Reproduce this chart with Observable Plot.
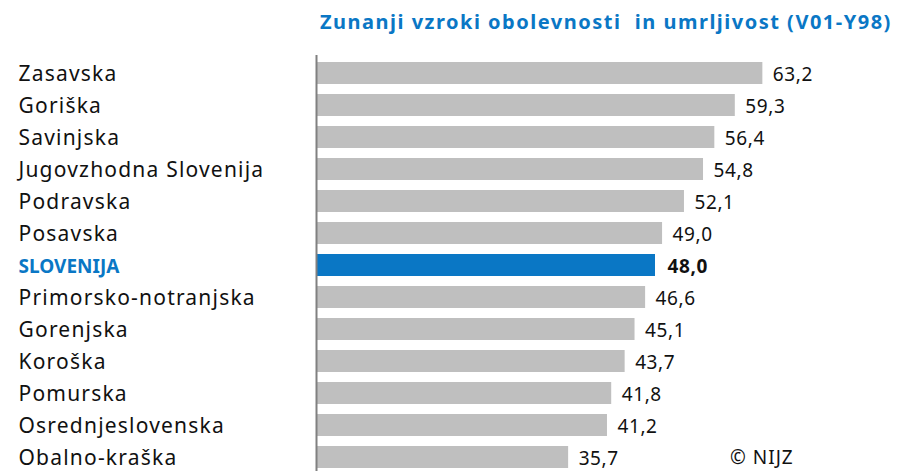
<!DOCTYPE html>
<html>
<head>
<meta charset="utf-8">
<script src="https://cdn.jsdelivr.net/npm/d3@7"></script>
<script src="https://cdn.jsdelivr.net/npm/@observablehq/plot@0.6"></script>
<style>
  html, body { margin: 0; padding: 0; background: #fff; overflow: hidden; }
  #wrap { position: relative; width: 906px; height: 471px; font-family: "Noto Sans", sans-serif; }
  #title { position: absolute; left: 320px; top: 8px; font-size: 20px; font-weight: bold; color: #0a77c5; white-space: pre; letter-spacing: 1.5px; }
  #chart { position: absolute; left: 0; top: 50px; }
  #credit { position: absolute; left: 730px; top: 444px; font-size: 19px; color: #111; letter-spacing: 1px; }
  .lbl text { letter-spacing: 1.2px; }
  .lblhi text { letter-spacing: 0px; }
  .val text { letter-spacing: 0.6px; }
</style>
</head>
<body>
<div id="wrap">
  <div id="title"></div>
  <div id="chart"></div>
  <div id="credit"></div>
</div>
<script>
const titleText = "Zunanji vzroki obolevnosti  in umrljivost (V01-Y98)";
const creditText = "© NIJZ";
const regions = ["Zasavska","Goriška","Savinjska","Jugovzhodna Slovenija","Podravska","Posavska","SLOVENIJA","Primorsko-notranjska","Gorenjska","Koroška","Pomurska","Osrednjeslovenska","Obalno-kraška"];
const values = [63.2, 59.3, 56.4, 54.8, 52.1, 49.0, 48.0, 46.6, 45.1, 43.7, 41.8, 41.2, 35.7];
const highlight = "SLOVENIJA";

const gray = "#bfbfbf", blue = "#0a77c5";
const data = regions.map((r, i) => ({region: r, value: values[i], hi: r === highlight}));
const fmt = v => v.toFixed(1).replace(".", ",");

document.getElementById("title").textContent = titleText;
document.getElementById("credit").textContent = creditText;

const chart = Plot.plot({
  width: 906,
  height: 425,
  marginLeft: 316,
  marginRight: 25,
  marginTop: 5,
  marginBottom: 0,
  style: {fontFamily: "Noto Sans, sans-serif", background: "transparent"},
  x: {domain: [0, 80], axis: null},
  y: {domain: regions, axis: null, paddingInner: 0.32, paddingOuter: 0.16},
  marks: [
    Plot.barX(data, {x: "value", y: "region", fill: d => d.hi ? blue : gray}),
    Plot.ruleX([0], {stroke: "#808080", strokeWidth: 2}),
    Plot.text(data.filter(d => !d.hi), {y: "region", text: "region", frameAnchor: "left", dx: -298, dy: 1, textAnchor: "start", fontSize: 21, fill: "#111", className: "lbl"}),
    Plot.text(data.filter(d => d.hi), {y: "region", text: "region", frameAnchor: "left", dx: -298, dy: 1, textAnchor: "start", fontSize: 19, fontWeight: "bold", fill: blue, className: "lblhi"}),
    Plot.text(data.filter(d => !d.hi), {x: "value", y: "region", text: d => fmt(d.value), dx: 10, dy: 1, textAnchor: "start", fontSize: 19, fill: "#111", className: "val"}),
    Plot.text(data.filter(d => d.hi), {x: "value", y: "region", text: d => fmt(d.value), dx: 12, dy: 1, textAnchor: "start", fontSize: 19, fontWeight: "bold", fill: "#111", className: "val"})
  ]
});
document.getElementById("chart").appendChild(chart);
</script>
</body>
</html>
